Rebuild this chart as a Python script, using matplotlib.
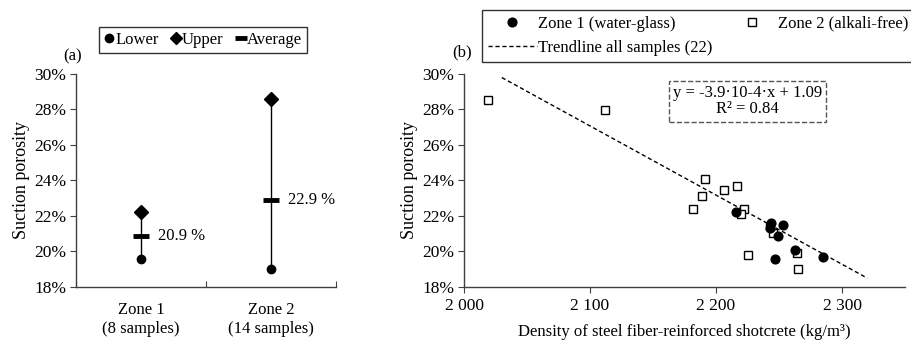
import numpy as np
import matplotlib
matplotlib.use("Agg")
import matplotlib.pyplot as plt
from matplotlib.lines import Line2D
from matplotlib.ticker import FuncFormatter

# --- DATA ---
zone_labels = ["Zone 1\n(8 samples)", "Zone 2\n(14 samples)"]
lower = [19.6, 19.0]
upper = [22.25, 28.6]
average = [20.9, 22.9]

zone1_density = [2216, 2244, 2243, 2253, 2249, 2263, 2247, 2285]
zone1_porosity = [22.2, 21.6, 21.35, 21.5, 20.87, 20.08, 19.55, 19.7]
zone2_density = [2019, 2112, 2191, 2217, 2206, 2189, 2182, 2222, 2220, 2245,
                 2225, 2264, 2265, 2243]
zone2_porosity = [28.55, 27.98, 24.07, 23.67, 23.45, 23.13, 22.42, 22.40, 22.14,
                  21.02, 19.80, 19.89, 19.01, 21.45]
trend_x = [2030, 2320]
trend_y = [29.8, 18.5]
y_ticks = [18, 20, 22, 24, 26, 28, 30]
x_ticks_b = [2000, 2100, 2200, 2300]

# --- STYLE ---
plt.rcParams['font.family'] = ['Liberation Serif', 'DejaVu Serif']
plt.rcParams['font.size'] = 12
AX_COL = '#404040'
DASH = (0, (3, 2))

fig = plt.figure(figsize=(9.12, 3.41), dpi=100)
ax1 = fig.add_axes([0.0833, 0.1584, 0.285, 0.6246])
ax2 = fig.add_axes([0.5088, 0.1584, 0.4836, 0.6246])

pct = FuncFormatter(lambda v, p: f"{v:.0f}%")
for ax in (ax1, ax2):
    for s in ('top', 'right'):
        ax.spines[s].set_visible(False)
    for s in ('left', 'bottom'):
        ax.spines[s].set_color(AX_COL)
        ax.spines[s].set_linewidth(1.0)
    ax.set_ylim(18, 30)
    ax.set_yticks(y_ticks)
    ax.yaxis.set_major_formatter(pct)
    ax.tick_params(axis='y', direction='out', length=4, color=AX_COL, pad=3,
                   labelsize=12.5)
    ax.set_ylabel("Suction porosity", fontsize=13, labelpad=3)

# --- Panel (a) ---
pos = np.arange(1, len(zone_labels) + 1)
for x, lo, hi in zip(pos, lower, upper):
    ax1.plot([x, x], [lo, hi], color='black', lw=1.0, zorder=1)
ax1.plot(pos, lower, 'o', color='black', ms=6, zorder=3)
ax1.plot(pos, upper, 'D', color='black', ms=7, zorder=3)
ax1.plot(pos, average, '_', color='black', ms=11, mew=3.5, zorder=3)
for x, a in zip(pos, average):
    ax1.text(x + 0.13, a, f"{a:.1f} %", va='center', ha='left')

ax1.set_xlim(0.5, 2.5)
ax1.set_xticks([0.5, 1.5, 2.5])
ax1.set_xticklabels([])
ax1.tick_params(axis='x', which='major', direction='in', length=4, color=AX_COL)
ax1.set_xticks(pos, minor=True)
ax1.set_xticklabels(zone_labels, minor=True)
ax1.tick_params(axis='x', which='minor', length=0, pad=11)
for lbl in ax1.get_xticklabels(minor=True):
    lbl.set_multialignment('center')

handles_a = [Line2D([], [], ls='none', marker='o', color='black', ms=6),
             Line2D([], [], ls='none', marker='D', color='black', ms=6),
             Line2D([], [], ls='none', marker='_', color='black', ms=8, mew=3.5)]
leg_a = fig.legend(handles_a, ["Lower", "Upper", "Average"], ncol=3,
                   loc='center', bbox_to_anchor=(0.2226, 0.8827),
                   frameon=True, fancybox=False, edgecolor='black',
                   handlelength=0.6, handletextpad=0.05, columnspacing=0.75,
                   borderpad=0.3, borderaxespad=0)
leg_a.get_frame().set_linewidth(1.0)
fig.text(0.08, 0.836, "(a)", ha='center', va='center', fontsize=12)

# --- Panel (b) ---
ax2.plot(trend_x, trend_y, ls=DASH, color='black', lw=1.0, zorder=1)
ax2.plot(zone2_density, zone2_porosity, 's', mfc='white', mec='black',
         mew=1.0, ms=5.5, zorder=2)
ax2.plot(zone1_density, zone1_porosity, 'o', color='black', ms=6.3, zorder=3)
ax2.set_xlim(2000, 2350)
ax2.set_xticks(x_ticks_b)
ax2.set_xticklabels([f"{v:,}".replace(',', ' ') for v in x_ticks_b])
ax2.tick_params(axis='x', direction='out', length=4, color=AX_COL, pad=4,
                labelsize=12.5)
ax2.set_xlabel("Density of steel fiber-reinforced shotcrete (kg/m³)", labelpad=7)

ax2.text(2225, 28.47, "y = -3.9·10-4·x + 1.09\nR² = 0.84", ha='center', va='center',
         multialignment='center', linespacing=1.05,
         bbox=dict(boxstyle='square,pad=0.25', fc='white', ec='#555555', ls='--', lw=1.0))

handles_b = [Line2D([], [], ls='none', marker='o', color='black', ms=6.3),
             Line2D([], [], ls=DASH, color='black', lw=1.0),
             Line2D([], [], ls='none', marker='s', mfc='white', mec='black', mew=1.0, ms=5.5)]
labels_b = ["Zone 1 (water-glass)", "Trendline all samples (22)", "Zone 2 (alkali-free)"]
leg_b = fig.legend(handles_b, labels_b, ncol=2, loc='center',
                   bbox_to_anchor=(0.7654, 0.8944), frameon=True, fancybox=False,
                   edgecolor='black', handlelength=2.9, handletextpad=0.1,
                   columnspacing=0.9, borderpad=0.35, labelspacing=0.5, borderaxespad=0)
leg_b.get_frame().set_linewidth(1.0)
fig.text(0.5066, 0.8475, "(b)", ha='center', va='center', fontsize=12)

plt.savefig("out.png", dpi=100)
